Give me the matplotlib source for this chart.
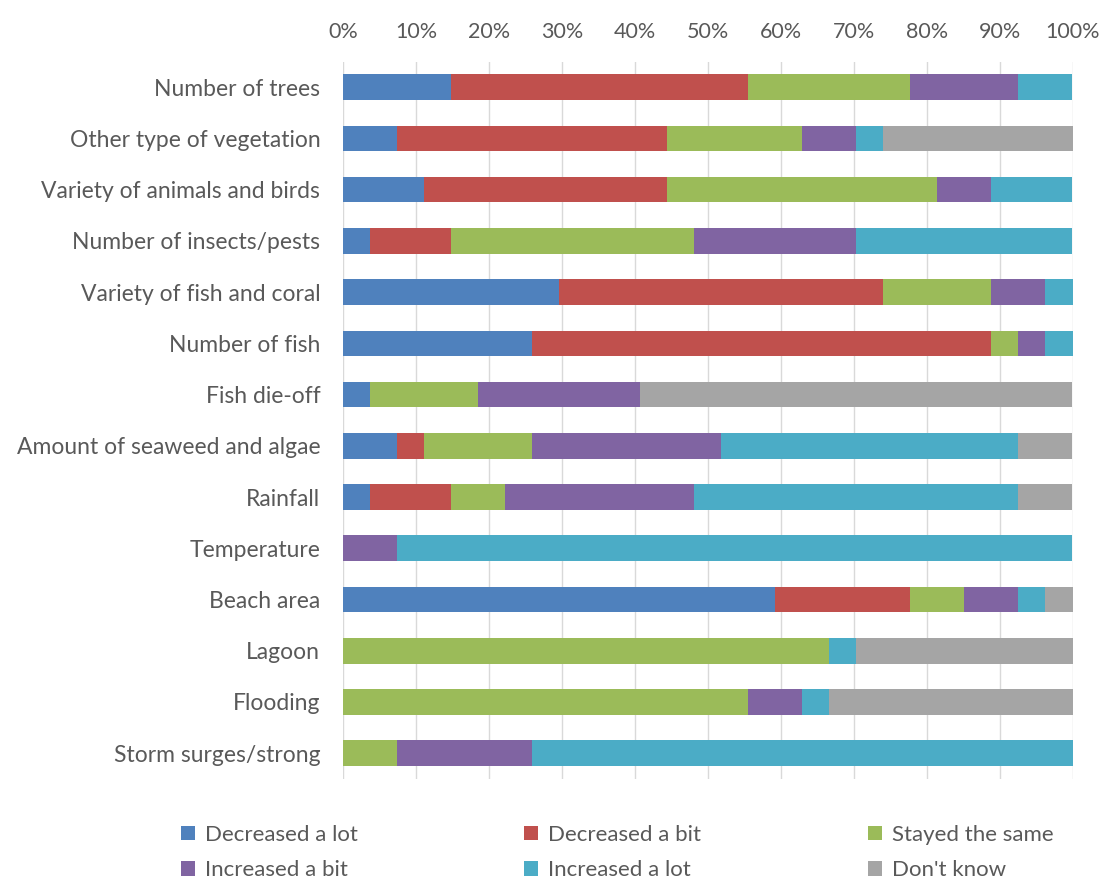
import numpy as np
import matplotlib.pyplot as plt

plt.rcParams['font.family'] = ['Lato', 'DejaVu Sans']

# responses per item (27 respondents)
items = ["Number of trees", "Other type of vegetation", "Variety of animals and birds",
         "Number of insects/pests", "Variety of fish and coral", "Number of fish",
         "Fish die-off", "Amount of seaweed and algae", "Rainfall", "Temperature",
         "Beach area", "Lagoon", "Flooding", "Storm surges/strong"]
answers = ["Decreased a lot", "Decreased a bit", "Stayed the same",
           "Increased a bit", "Increased a lot", "Don't know"]

dec_lot  = [4, 2, 3, 1, 8, 7, 1, 2, 1, 0, 16, 0, 0, 0]
dec_bit  = [11, 10, 9, 3, 12, 17, 0, 1, 3, 0, 5, 0, 0, 0]
same     = [6, 5, 10, 9, 4, 1, 4, 4, 2, 0, 2, 18, 15, 2]
inc_bit  = [4, 2, 2, 6, 2, 1, 6, 7, 7, 2, 2, 0, 2, 5]
inc_lot  = [2, 1, 3, 8, 1, 1, 0, 11, 12, 25, 1, 1, 1, 20]
dont_know = [0, 7, 0, 0, 0, 0, 16, 2, 2, 0, 1, 8, 9, 0]

colors = ['#4f81bd', '#c0504d', '#9bbb59', '#8064a2', '#4bacc6', '#a5a5a5']

counts = np.array([dec_lot, dec_bit, same, inc_bit, inc_lot, dont_know], dtype=float)
pct = counts / counts.sum(axis=0) * 100

fig = plt.figure(figsize=(11, 8.8), dpi=100)
ax = fig.add_axes([0.312, 0.115, 0.663, 0.815])

y = np.arange(len(items))
left = np.zeros(len(items))
handles = []
for i in range(len(answers)):
    b = ax.barh(y, pct[i], left=left, height=0.5, color=colors[i], label=answers[i], zorder=3)
    handles.append(b)
    left += pct[i]

ax.set_xlim(0, 100)
ax.set_ylim(len(items) - 0.5, -0.5)
ax.set_yticks(y)
ax.set_yticklabels(items)
ax.set_xticks(np.arange(0, 101, 10))
ax.set_xticklabels([f"{v}%" for v in range(0, 101, 10)])
ax.xaxis.tick_top()
ax.tick_params(length=0, colors='#595959')
ax.tick_params(axis='y', labelsize=16.5, pad=16.5)
ax.tick_params(axis='x', labelsize=15.5, pad=14)
ax.grid(axis='x', color='#d9d9d9', linewidth=1, zorder=0)
for s in ax.spines.values():
    s.set_visible(False)

order = [0, 3, 1, 4, 2, 5]
leg = fig.legend([handles[k] for k in order], [answers[k] for k in order],
                 ncol=3, loc='upper left', bbox_to_anchor=(0.146, 0.0, 0.83, 0.0855),
                 mode='expand', frameon=False, fontsize=16, handlelength=0.65,
                 handleheight=0.65, handletextpad=0.45, labelspacing=0.7)
for t in leg.get_texts():
    t.set_color('#595959')

fig.savefig('out.png', dpi=100)
